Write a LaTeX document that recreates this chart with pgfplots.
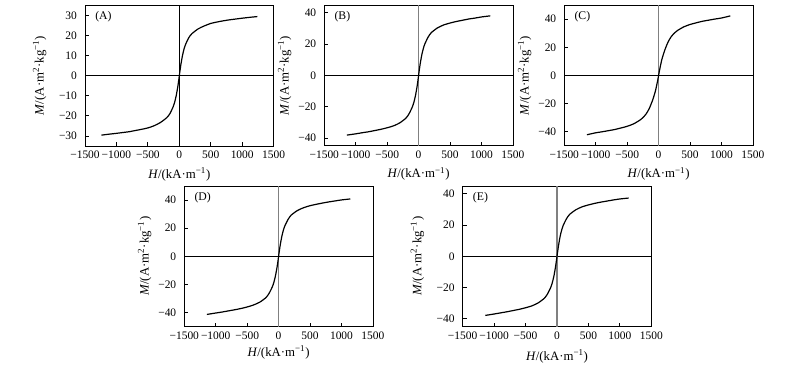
\documentclass[border=0pt]{standalone}
\usepackage{fontspec}
\setmainfont{Liberation Serif}
\usepackage{pgfplots}
\pgfplotsset{compat=1.18}
\definecolor{zgray}{HTML}{808080}
\pgfplotsset{
  mag/.style={
    scale only axis, width=141.5pt, height=105.5pt,
    anchor=south west,
    xmin=-1500, xmax=1500,
    xtick={-1500,-1000,-500,0,500,1000,1500},
    xticklabels={−1500,−1000,−500,0,500,1000,1500},
    tick align=inside, xtick pos=bottom, ytick pos=left,
    major tick length=3pt,
    tick style={black, line width=0.6pt},
    axis line style={line width=0.6pt},
    ticklabel style={font=\fontsize{8.6}{9}\selectfont},
    yticklabel style={xshift=-2.5pt},
    label style={font=\fontsize{9.6}{10}\selectfont},
    xlabel={\textit{H}/(kA·m\textsuperscript{−1})},
    ylabel={\textit{M}/(A·m\textsuperscript{2}·kg\textsuperscript{−1})},
    xlabel style={at={(axis description cs:0.5,-0.2)}, anchor=center},
    clip=false,
  },
  curve/.style={black, line width=0.9pt, line join=round, no marks, smooth, tension=0.4},
}
\newcommand{\panellabel}[1]{\node[anchor=north west, inner sep=0pt, font=\fontsize{8.8}{9}\selectfont] at ([xshift=7.5pt,yshift=-4.5pt]rel axis cs:0,1) {#1};}
\begin{document}
\begin{tikzpicture}
\useasboundingbox (0,0) rectangle (600pt,276pt);
% (A)
\begin{axis}[mag, at={(63.75pt,166.5pt)}, ymin=-35, ymax=35,
  ytick={-30,-20,-10,0,10,20,30}, yticklabels={−30,−20,−10,0,10,20,30},
  ylabel style={at={(axis description cs:-0.24,0.5)}, anchor=center}]
\draw[black, line width=0.6pt] (axis cs:-1500,0) -- (axis cs:1500,0);
\draw[black, line width=0.6pt] (axis cs:0,-35) -- (axis cs:0,35);
\addplot[curve] coordinates {
(-1240,-29.6) (-1140,-29.2) (-1000,-28.7) (-900,-28.3) (-800,-27.9) (-700,-27.3) (-600,-26.7) (-500,-26.0) (-400,-24.9) (-300,-23.3) (-200,-20.9) (-150,-18.9) (-100,-15.6) (-75,-13.3) (-50,-10.0) (-25,-5.6) (-10,-2.4) (0,0)
(10,2.4) (25,5.6) (50,10.0) (75,13.3) (100,15.6) (150,18.9) (200,20.9) (300,23.3) (400,24.8) (500,26.0) (600,26.7) (700,27.3) (800,27.8) (900,28.2) (1000,28.6) (1140,29.1) (1240,29.4)};
\panellabel{(A)}
\end{axis}
% (B)
\begin{axis}[mag, at={(243.2pt,166.7pt)}, ymin=-45, ymax=45,
  ytick={-40,-20,0,20,40}, yticklabels={−40,−20,0,20,40},
  ylabel style={at={(axis description cs:-0.21,0.5)}, anchor=center}]
\draw[black, line width=0.6pt] (axis cs:-1500,0) -- (axis cs:1500,0);
\draw[zgray, line width=0.8pt] (axis cs:0,-45) -- (axis cs:0,45);
\addplot[curve] coordinates {
(-1140,-38.2) (-1000,-37.4) (-900,-36.7) (-800,-36.1) (-700,-35.3) (-600,-34.5) (-500,-33.5) (-400,-32.3) (-300,-30.4) (-200,-27.3) (-150,-24.4) (-100,-20.2) (-75,-17.2) (-50,-13.0) (-25,-7.3) (-10,-3.1) (0,0)
(10,3.1) (25,7.3) (50,13.0) (75,17.2) (100,20.2) (150,24.4) (200,27.3) (300,30.4) (400,32.3) (500,33.5) (600,34.5) (700,35.3) (800,36.1) (900,36.7) (1000,37.4) (1140,38.1)};
\panellabel{(B)}
\end{axis}
% (C)
\begin{axis}[mag, at={(423.2pt,166.7pt)}, ymin=-50, ymax=50,
  ytick={-40,-20,0,20,40}, yticklabels={−40,−20,0,20,40},
  ylabel style={at={(axis description cs:-0.21,0.5)}, anchor=center}]
\draw[black, line width=0.6pt] (axis cs:-1500,0) -- (axis cs:1500,0);
\draw[zgray, line width=0.8pt] (axis cs:0,-50) -- (axis cs:0,50);
\addplot[curve] coordinates {
(-1140,-42.2) (-1000,-40.8) (-900,-40.1) (-800,-39.3) (-700,-38.5) (-600,-37.4) (-500,-36.2) (-400,-34.5) (-300,-31.9) (-250,-30.0) (-200,-27.5) (-150,-23.7) (-100,-18.2) (-75,-14.8) (-50,-11.0) (-25,-5.9) (-10,-2.5) (0,0)
(10,2.5) (25,5.9) (50,11.0) (75,14.8) (100,18.2) (150,23.7) (200,27.5) (250,30.0) (300,31.9) (400,34.5) (500,36.2) (600,37.4) (700,38.5) (800,39.3) (900,40.1) (1000,40.8) (1140,42.3)};
\panellabel{(C)}
\end{axis}
% (D)
\begin{axis}[mag, at={(138.2pt,31pt)}, ymin=-50, ymax=50,
  ytick={-40,-20,0,20,40}, yticklabels={−40,−20,0,20,40},
  ylabel style={at={(axis description cs:-0.21,0.5)}, anchor=center},
  xlabel style={at={(axis description cs:0.5,-0.18)}}]
\draw[black, line width=0.6pt] (axis cs:-1500,0) -- (axis cs:1500,0);
\draw[zgray, line width=0.8pt] (axis cs:0,-50) -- (axis cs:0,50);
\addplot[curve] coordinates {
(-1140,-41.3) (-1000,-40.3) (-900,-39.6) (-800,-38.8) (-700,-38.0) (-600,-37.1) (-500,-36.0) (-400,-34.6) (-300,-32.6) (-200,-29.3) (-150,-26.2) (-100,-21.7) (-75,-18.5) (-50,-13.9) (-25,-7.8) (-10,-3.3) (0,0)
(10,3.3) (25,7.8) (50,13.9) (75,18.5) (100,21.7) (150,26.2) (200,29.3) (300,32.6) (400,34.6) (500,36.0) (600,37.0) (700,37.9) (800,38.7) (900,39.4) (1000,40.1) (1140,40.8)};
\panellabel{(D)}
\end{axis}
% (E)
\begin{axis}[mag, at={(347pt,31pt)}, ymin=-45, ymax=45,
  ytick={-40,-20,0,20,40}, yticklabels={−40,−20,0,20,40},
  ylabel style={at={(axis description cs:-0.24,0.5)}, anchor=center},
  xlabel style={at={(axis description cs:0.5,-0.21)}}]
\draw[black, line width=0.6pt] (axis cs:-1500,0) -- (axis cs:1500,0);
\draw[zgray, line width=0.8pt] (axis cs:0,-45) -- (axis cs:0,45);
\addplot[curve] coordinates {
(-1140,-37.8) (-1000,-36.9) (-900,-36.2) (-800,-35.5) (-700,-34.7) (-600,-33.9) (-500,-32.9) (-400,-31.7) (-300,-29.8) (-200,-26.8) (-150,-24.0) (-100,-19.9) (-75,-16.9) (-50,-12.8) (-25,-7.1) (-10,-3.0) (0,0)
(10,3.0) (25,7.1) (50,12.8) (75,16.9) (100,19.9) (150,24.0) (200,26.8) (300,29.8) (400,31.7) (500,32.9) (600,33.9) (700,34.7) (800,35.4) (900,36.1) (1000,36.7) (1140,37.3)};
\panellabel{(E)}
\end{axis}
\end{tikzpicture}
\end{document}
